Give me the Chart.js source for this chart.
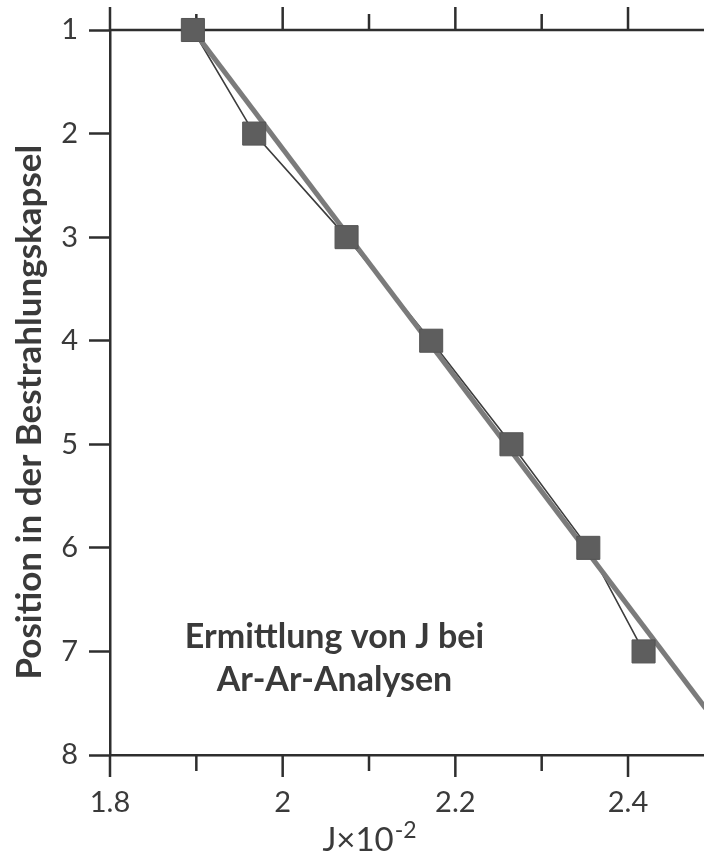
<!DOCTYPE html>
<html>
<head>
<meta charset="utf-8">
<script src="https://cdn.jsdelivr.net/npm/chart.js@4.4.0/dist/chart.umd.min.js"></script>
<style>
  html, body { margin: 0; padding: 0; background: #fff; }
  #wrap { width: 704px; height: 859px; }
</style>
</head>
<body>
<div id="wrap"><canvas id="chart" width="704" height="859"></canvas></div>
<script>
// Werte
const positions = [1, 2, 3, 4, 5, 6, 7];
const jValues = [1.896, 1.967, 2.074, 2.172, 2.265, 2.354, 2.418];

// Ausgleichsgerade (Endpunkte)
const fitJ = [1.896, 2.49];
const fitPos = [1, 7.55];

const xLabelValues = [1.8, 2, 2.2, 2.4];
const noteLines = ['Ermittlung von J bei', 'Ar-Ar-Analysen'];
const yTitle = 'Position in der Bestrahlungskapsel';

const axisColor = '#2e2e2e';
const textColor = '#3a3a3a';
const fontName = 'Lato, "Open Sans", sans-serif';

const points = positions.map((p, i) => ({ x: jValues[i], y: p }));
const fitLine = fitJ.map((j, i) => ({ x: j, y: fitPos[i] }));

function isTenth(v) {
  return Math.abs(v * 10 - Math.round(v * 10)) < 1e-6;
}

// Achsenlinie oben und Tickmarken der x-Achse (lang/kurz)
const tickMarks = {
  id: 'tickMarks',
  beforeDatasetsDraw(chart) {
    const ctx = chart.ctx;
    const area = chart.chartArea;
    const x = chart.scales.x;
    ctx.save();
    ctx.strokeStyle = axisColor;
    ctx.lineWidth = 2.5;
    ctx.beginPath();
    ctx.moveTo(area.left, area.top);
    ctx.lineTo(area.right, area.top);
    x.ticks.forEach(t => {
      if (!isTenth(t.value)) return;
      const px = x.getPixelForValue(t.value);
      const major = Math.round(t.value * 10) % 2 === 0;
      ctx.moveTo(px, area.bottom);
      ctx.lineTo(px, area.bottom + (major ? 22 : 16));
      ctx.moveTo(px, area.top);
      ctx.lineTo(px, area.top - (major ? 23 : 16));
    });
    ctx.stroke();
    ctx.restore();
  }
};

// Beschriftungen
const labels = {
  id: 'labels',
  afterDraw(chart) {
    const ctx = chart.ctx;
    const x = chart.scales.x;
    const y = chart.scales.y;
    ctx.save();
    ctx.fillStyle = textColor;

    // Hinweistext
    ctx.font = 'bold 34px ' + fontName;
    ctx.textAlign = 'center';
    ctx.textBaseline = 'alphabetic';
    const nx = x.getPixelForValue(2.06);
    const ny = y.getPixelForValue(6.97);
    ctx.fillText(noteLines[0], nx, ny);
    ctx.fillText(noteLines[1], nx, ny + 43);

    // x-Achsentitel  J×10^-2
    const base = 'J\u00d710';
    const sup = '-2';
    ctx.font = '33px ' + fontName;
    const wBase = ctx.measureText(base).width;
    ctx.font = '23px ' + fontName;
    const wSup = ctx.measureText(sup).width;
    const tx = x.getPixelForValue(2.1) - (wBase + wSup) / 2;
    const ty = chart.chartArea.bottom + 96;
    ctx.textAlign = 'left';
    ctx.font = '33px ' + fontName;
    ctx.fillText(base, tx, ty);
    ctx.font = '23px ' + fontName;
    ctx.fillText(sup, tx + wBase + 1, ty - 13);

    // y-Achsentitel
    ctx.font = 'bold 35px ' + fontName;
    ctx.textAlign = 'center';
    ctx.textBaseline = 'middle';
    ctx.translate(30, y.getPixelForValue(4.69));
    ctx.rotate(-Math.PI / 2);
    ctx.fillText(yTitle, 0, 0);
    ctx.restore();
  }
};

new Chart(document.getElementById('chart'), {
  type: 'scatter',
  data: {
    datasets: [
      {
        data: points,
        showLine: true,
        borderColor: '#3d3d3d',
        borderWidth: 1.6,
        pointRadius: 0,
        clip: false,
        order: 3
      },
      {
        data: fitLine,
        showLine: true,
        borderColor: '#7b7b7b',
        borderWidth: 5,
        pointRadius: 0,
        clip: false,
        order: 2
      },
      {
        data: points,
        showLine: false,
        pointStyle: 'rect',
        pointRadius: 16.3,
        pointBackgroundColor: '#5e5e5e',
        pointBorderColor: '#555555',
        pointBorderWidth: 1,
        clip: false,
        order: 1
      }
    ]
  },
  options: {
    responsive: false,
    animation: false,
    devicePixelRatio: 1,
    layout: { autoPadding: false, padding: { top: 30, right: 0, bottom: 0, left: 0 } },
    plugins: {
      legend: { display: false },
      tooltip: { enabled: false }
    },
    scales: {
      x: {
        type: 'linear',
        position: 'bottom',
        min: 1.8,
        max: 2.488,
        afterFit: s => { s.height = 104; },
        grid: { display: false, drawTicks: false },
        border: { display: true, color: axisColor, width: 2.5 },
        ticks: {
          stepSize: 0.1,
          includeBounds: false,
          autoSkip: false,
          maxRotation: 0,
          padding: 30,
          color: textColor,
          font: { family: fontName, size: 29 },
          callback: v => xLabelValues.some(l => Math.abs(l - v) < 1e-6) ? String(+v.toFixed(1)) : ''
        }
      },
      y: {
        type: 'linear',
        position: 'left',
        min: 1,
        max: 8,
        reverse: true,
        afterFit: s => { s.width = 110; },
        grid: {
          display: true,
          drawOnChartArea: false,
          drawTicks: true,
          tickLength: 21,
          tickColor: axisColor,
          tickWidth: 2.5
        },
        border: { display: true, color: axisColor, width: 2.5 },
        ticks: {
          stepSize: 1,
          padding: 11,
          color: textColor,
          font: { family: fontName, size: 29 }
        }
      }
    }
  },
  plugins: [tickMarks, labels]
});
</script>
</body>
</html>
